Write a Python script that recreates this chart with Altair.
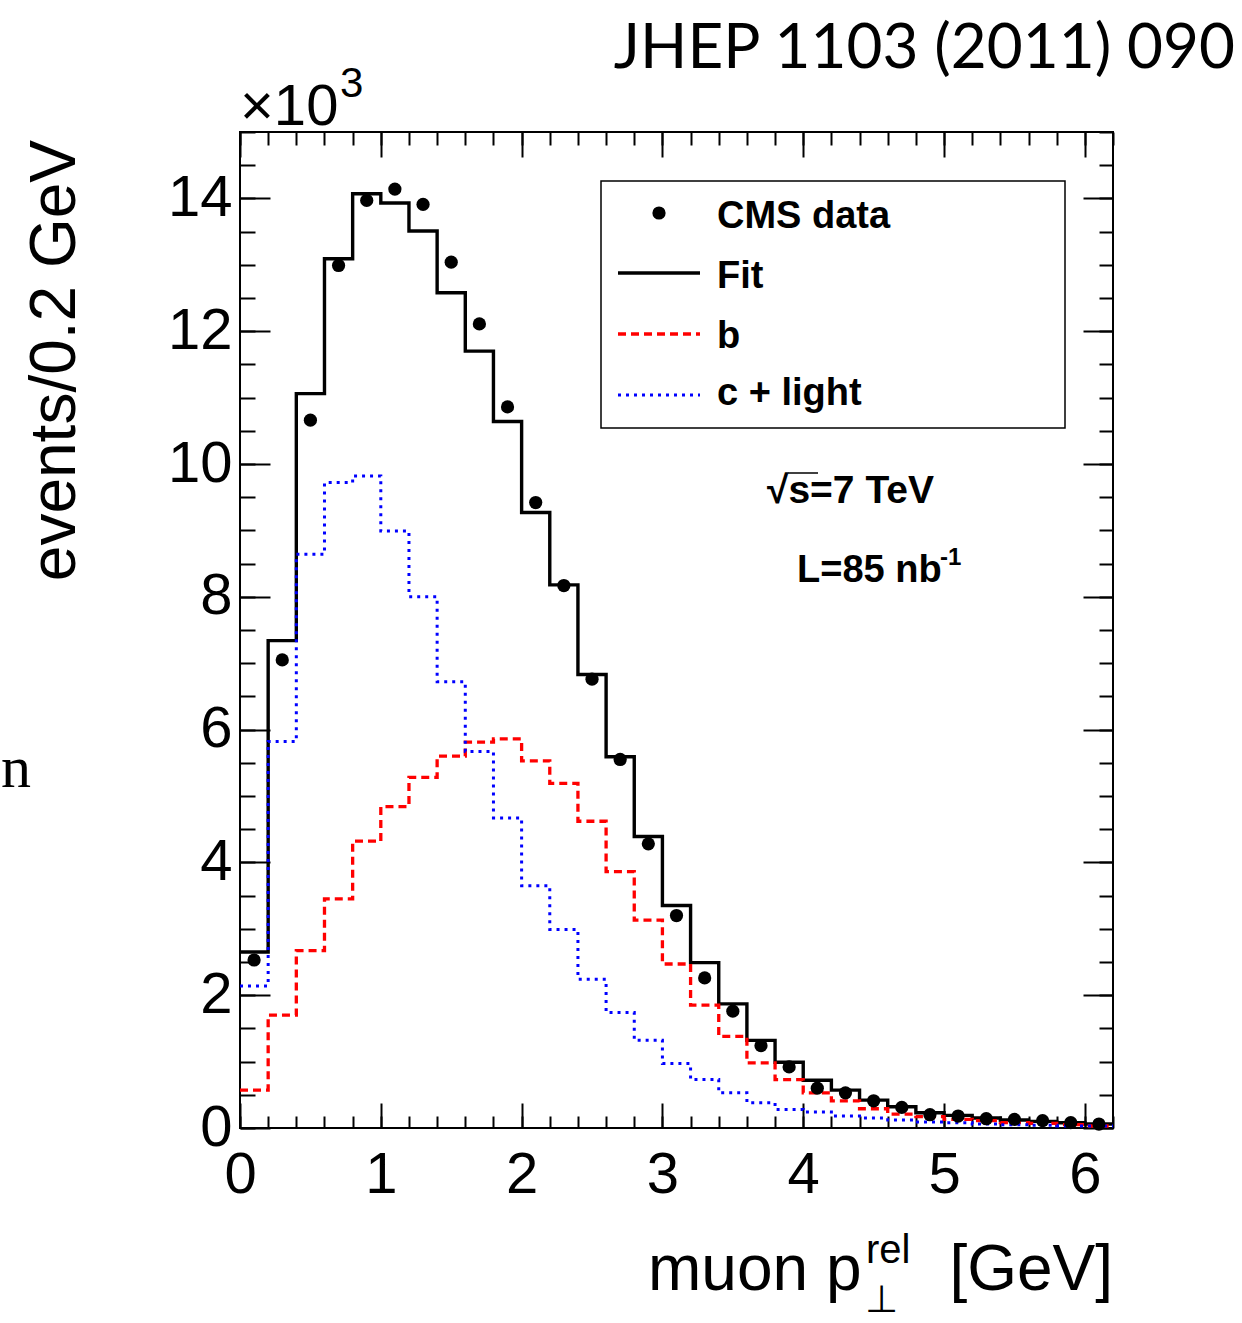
import altair as alt
import pandas as pd

# ---------------- data ----------------
bin_edges = [round(i * 0.2, 1) for i in range(32)]          # 0.0 ... 6.2
bin_centers = [round(0.1 + i * 0.2, 1) for i in range(31)]   # 0.1 ... 6.1

cms_data = [2.53, 7.05, 10.66, 12.99, 13.97, 14.14, 13.91, 13.04, 12.11, 10.86,
            9.42, 8.17, 6.76, 5.55, 4.28, 3.20, 2.26, 1.76, 1.24, 0.92,
            0.60, 0.53, 0.41, 0.31, 0.20, 0.18, 0.14, 0.13, 0.11, 0.08, 0.06]
fit = [2.65, 7.34, 11.06, 13.09, 14.07, 13.93, 13.51, 12.58, 11.70, 10.64,
       9.27, 8.18, 6.83, 5.59, 4.39, 3.35, 2.49, 1.87, 1.32, 0.99,
       0.72, 0.57, 0.42, 0.32, 0.23, 0.19, 0.15, 0.12, 0.10, 0.08, 0.06]
b_part = [0.57, 1.70, 2.67, 3.45, 4.32, 4.84, 5.28, 5.60, 5.81, 5.86,
          5.53, 5.19, 4.62, 3.86, 3.13, 2.47, 1.85, 1.38, 0.98, 0.73,
          0.53, 0.41, 0.29, 0.21, 0.17, 0.13, 0.11, 0.08, 0.07, 0.05, 0.03]
c_light = [2.14, 5.82, 8.64, 9.72, 9.82, 8.99, 8.00, 6.72, 5.67, 4.67,
           3.65, 2.99, 2.24, 1.74, 1.32, 0.97, 0.73, 0.53, 0.38, 0.28,
           0.24, 0.18, 0.15, 0.12, 0.09, 0.08, 0.06, 0.05, 0.04, 0.03, 0.03]

legend_labels = ["CMS data", "Fit", "b", "c + light"]
x_major = [0, 1, 2, 3, 4, 5, 6]
x_minor = [round(i * 0.2, 1) for i in range(32)]
y_major = [0, 2, 4, 6, 8, 10, 12, 14]
y_minor = [i * 0.5 for i in range(31)]
title_text = "JHEP 1103 (2011) 090"

# ---------------- layout ----------------
W, H = 873, 996
FONT = "Liberation Sans"
xs = alt.Scale(domain=[0, 6.2], nice=False, zero=False)
ys = alt.Scale(domain=[0, 15], nice=False, zero=False)


def axis(orient, values, size=0, offset=0, labels=False, pad=0):
    kw = dict(orient=orient, values=values, domain=False, grid=False, title=None,
              labels=labels, ticks=size > 0, tickSize=size, tickWidth=2,
              tickColor="black", offset=offset, labelOverlap=False)
    if labels:
        kw.update(labelFont=FONT, labelFontSize=58, labelColor="black",
                  labelPadding=pad, labelFlush=False, labelBound=False)
    return alt.Axis(**kw)


def step_df(vals):
    return pd.DataFrame({"x": bin_edges, "y": vals + [vals[-1]]})


def step_layer(vals, color, dash, xax, yax, width=3.3):
    return alt.Chart(step_df(vals)).mark_line(
        interpolate="step-after", color=color, strokeWidth=width, strokeDash=dash,
        strokeCap="butt"
    ).encode(
        x=alt.X("x:Q", scale=xs, axis=xax),
        y=alt.Y("y:Q", scale=ys, axis=yax),
    )


pts_df = pd.DataFrame({"x": bin_centers, "y": cms_data})

fit_layer = step_layer(fit, "black", [1, 0],
                       axis("bottom", x_minor, size=12, offset=-12),
                       axis("left", y_minor, size=15, offset=-15), width=3.4)
b_layer = step_layer(b_part, "#ff0000", [8, 5],
                     axis("bottom", x_major, size=25, offset=-25),
                     axis("left", y_major, size=30, offset=-30))
c_layer = step_layer(c_light, "#0000ff", [3, 5],
                     axis("bottom", x_major, labels=True, pad=18),
                     axis("left", y_major, labels=True, pad=8), width=3)
pts_layer = alt.Chart(pts_df).mark_circle(size=175, color="black", opacity=1).encode(
    x=alt.X("x:Q", scale=xs, axis=axis("top", x_major, size=25, offset=-25)),
    y=alt.Y("y:Q", scale=ys, axis=axis("right", y_major, size=30, offset=-30)),
)
minor_frame = alt.Chart(pts_df).mark_point(opacity=0).encode(
    x=alt.X("x:Q", scale=xs, axis=axis("top", x_minor, size=13, offset=-13)),
    y=alt.Y("y:Q", scale=ys, axis=axis("right", y_minor, size=14, offset=-14)),
)


def text(t, x, y, size, font=FONT, weight="normal", align="left",
         baseline="alphabetic", angle=0):
    return alt.Chart(pd.DataFrame({"t": [t]})).mark_text(
        align=align, baseline=baseline, font=font, fontSize=size,
        fontWeight=weight, angle=angle, color="black"
    ).encode(x=alt.value(x), y=alt.value(y), text="t:N")


one = pd.DataFrame({"k": [0]})

legend_box = alt.Chart(one).mark_rect(fill="white", stroke="black", strokeWidth=1.5).encode(
    x=alt.value(361), x2=alt.value(825), y=alt.value(49), y2=alt.value(296))
leg_dot = alt.Chart(one).mark_circle(size=175, color="black", opacity=1).encode(
    x=alt.value(419), y=alt.value(81))
leg_fit = alt.Chart(one).mark_rule(color="black", strokeWidth=3.4).encode(
    x=alt.value(378), x2=alt.value(460), y=alt.value(141))
leg_b = alt.Chart(one).mark_rule(color="#ff0000", strokeWidth=3.3, strokeDash=[8, 5]).encode(
    x=alt.value(378), x2=alt.value(460), y=alt.value(202))
leg_c = alt.Chart(one).mark_rule(color="#0000ff", strokeWidth=3, strokeDash=[3, 5]).encode(
    x=alt.value(378), x2=alt.value(460), y=alt.value(263))
leg_texts = [text(lbl, 477, yy, 38, weight="bold")
             for lbl, yy in zip(legend_labels, [96, 156, 216, 273])]

sqrt_text = text("√s=7 TeV", 527, 371, 39, weight="bold")
sqrt_bar = alt.Chart(one).mark_rule(color="black", strokeWidth=1.5).encode(
    x=alt.value(548), x2=alt.value(578), y=alt.value(341))
lumi_text = text("L=85 nb", 557, 450, 38, weight="bold")
lumi_sup = text("-1", 700, 433, 24, weight="bold")

title = text(title_text, 995, -64, 62, font="Lato", align="right")
mult = text("×10", 0, -7, 58)
mult_sup = text("3", 100, -35, 42)
ytitle = text("events/0.2 GeV", -165, 8, 64, align="right", angle=270)
xt1 = text("muon p", 408, 1158, 64)
xt_sup = text("rel", 626, 1131, 40)
xt_sub = text("⊥", 625, 1180, 38, font="DejaVu Sans")
xt2 = text("[GeV]", 873, 1158, 64, align="right")
stray_n = text("n", -239, 655, 60, font="Liberation Serif")

chart = alt.layer(
    minor_frame, fit_layer, b_layer, c_layer, pts_layer,
    legend_box, leg_dot, leg_fit, leg_b, leg_c, *leg_texts,
    sqrt_text, sqrt_bar, lumi_text, lumi_sup,
    title, mult, mult_sup, ytitle, xt1, xt_sup, xt_sub, xt2, stray_n,
).resolve_axis(x="independent", y="independent").properties(
    width=W, height=H,
    autosize=alt.AutoSizeParams(type="none"),
    padding={"left": 240, "top": 132, "right": 129, "bottom": 195},
    background="white",
).configure_view(stroke="black", strokeWidth=2)

chart.save("out.html", embed_options={"renderer": "svg", "actions": False})
